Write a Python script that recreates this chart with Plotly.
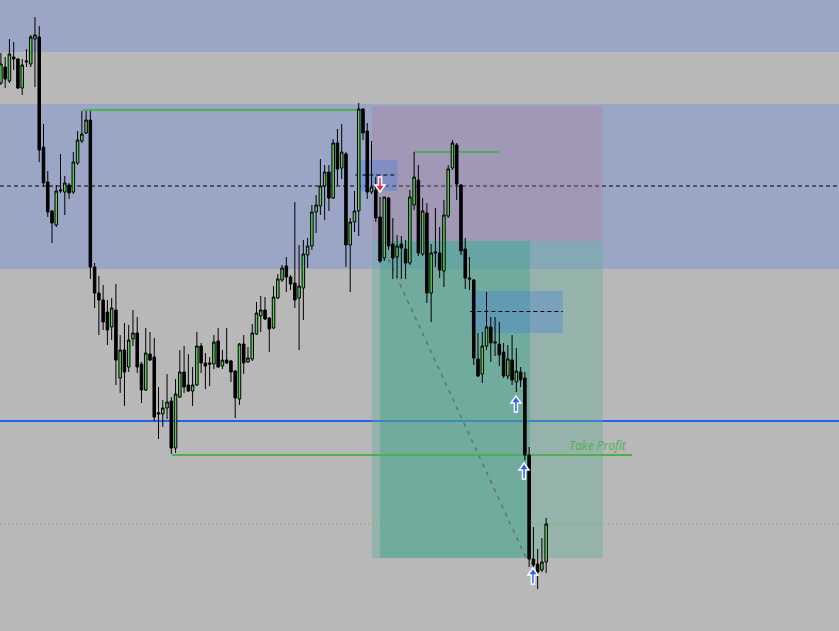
import plotly.graph_objects as go

# ---------------- data (prices in points) ----------------
idx = list(range(1, 130))
opens = [548, 564, 550, 574, 572, 543, 569, 567, 592, 594,
         484, 449, 420, 406, 440, 439, 446, 439, 468, 490,
         498, 511, 364, 338, 331, 319, 304, 321, 253, 281,
         264, 292, 298, 267, 241, 277, 274, 217, 217, 223,
         230, 183, 234, 259, 246, 240, 246, 285, 268, 268,
         267, 290, 265, 271, 270, 260, 232, 287, 269, 272,
         297, 315, 321, 313, 303, 333, 351, 365, 354, 348,
         333, 343, 376, 385, 419, 425, 445, 459, 433, 488,
         463, 477, 386, 409, 420, 522, 500, 439, 441, 414,
         373, 433, 387, 374, 387, 382, 368, 426, 451, 377,
         418, 338, 378, 378, 360, 415, 463, 486, 446, 382,
         353, 351, 272, 257, 285, 304, 288, 287, 279, 255,
         271, 249, 259, 253, 176, 72, 67, 61, 69]
highs = [578, 574, 592, 589, 573, 572, 582, 596, 614, 605,
         507, 460, 421, 446, 477, 455, 448, 479, 500, 520,
         520, 520, 368, 355, 346, 331, 333, 347, 296, 308,
         306, 321, 314, 269, 303, 299, 293, 244, 231, 257,
         234, 252, 281, 285, 277, 264, 299, 288, 278, 274,
         296, 303, 281, 303, 271, 261, 288, 296, 284, 307,
         329, 335, 334, 314, 345, 357, 366, 374, 356, 429,
         386, 391, 393, 426, 436, 472, 466, 466, 492, 502,
         507, 479, 413, 440, 528, 523, 508, 490, 454, 434,
         434, 434, 413, 396, 395, 391, 441, 479, 466, 433,
         428, 387, 423, 404, 431, 466, 491, 488, 447, 393,
         374, 352, 298, 299, 339, 314, 314, 309, 288, 286,
         296, 283, 264, 259, 184, 104, 82, 93, 113]
lows = [546, 543, 548, 561, 542, 536, 564, 564, 544, 469,
        444, 414, 388, 404, 438, 416, 432, 437, 466, 488,
        497, 352, 323, 296, 301, 286, 291, 246, 238, 225,
        259, 285, 258, 228, 240, 270, 210, 192, 204, 212,
        177, 178, 233, 238, 239, 225, 245, 258, 242, 245,
        262, 263, 262, 267, 249, 213, 226, 257, 268, 270,
        296, 299, 311, 279, 302, 332, 349, 339, 341, 323,
        281, 311, 363, 381, 398, 416, 411, 420, 432, 446,
        452, 364, 339, 399, 395, 491, 432, 437, 409, 368,
        370, 381, 352, 353, 352, 352, 366, 421, 375, 375,
        328, 309, 364, 353, 344, 413, 461, 431, 376, 342,
        341, 266, 254, 248, 281, 269, 275, 265, 253, 252,
        246, 239, 244, 171, 64, 64, 42, 59, 58]
closes = [567, 552, 577, 572, 543, 566, 570, 594, 596, 481,
          448, 419, 408, 440, 441, 448, 438, 469, 491, 497,
          511, 364, 338, 331, 309, 301, 323, 271, 281, 259,
          291, 298, 264, 241, 278, 271, 214, 218, 223, 229,
          183, 237, 259, 244, 240, 246, 285, 268, 265, 267,
          289, 264, 271, 268, 259, 233, 287, 268, 273, 298,
          318, 321, 312, 302, 334, 352, 363, 354, 347, 331,
          345, 377, 385, 419, 426, 445, 459, 433, 488, 462,
          479, 386, 409, 420, 522, 498, 439, 444, 413, 370,
          434, 385, 373, 385, 383, 368, 434, 454, 378, 420,
          338, 378, 379, 361, 416, 462, 488, 447, 380, 353,
          352, 273, 255, 285, 304, 288, 289, 276, 255, 272,
          251, 260, 251, 176, 72, 66, 59, 69, 107]

# zones / levels (price points) and tool anchors (bar index)
band_zones = [(579, 631), (362, 527)]
pivot_level = 445
blue_level = 210
dotted_level = 107
green_lines = [(20.3, 85.8, 521), (41.2, 149.2, 176), (97.97, 117.9, 479)]
sell_zone = (88.1, 142.3, 390, 525)
target_zone = (88.1, 142.3, 73, 390)
target_inner = (90.0, 125.2, 73, 390)
box1 = (84.4, 94.1, 440, 471, 456)
box2 = (111.4, 132.9, 298, 340, 319.5)
diag = (90.2, 388, 124.5, 71)
sell_arrow = (90.0, 454)          # tail of the down arrow
buy_arrows = [(121.9, 219), (123.8, 152), (125.9, 47)]   # tails of up arrows
tp_label = (133.9, 186, "Take Profit")

GREY = "#b8b8b8"
BAND = "#9ba6c6"
GREEN = "#4caf50"
CANDLE_GREEN = "#58c858"

fig = go.Figure()
fig.add_trace(go.Candlestick(
    x=idx, open=opens, high=highs, low=lows, close=closes,
    increasing=dict(line=dict(color="black", width=1), fillcolor=CANDLE_GREEN),
    decreasing=dict(line=dict(color="black", width=1), fillcolor="black"),
    whiskerwidth=0, hoverinfo="skip", showlegend=False,
))

shapes = []
for lo, hi in band_zones:
    shapes.append(dict(type="rect", xref="paper", x0=0, x1=1, y0=lo, y1=hi,
                       fillcolor=BAND, line_width=0, layer="below"))
x0, x1, y0, y1 = sell_zone
shapes.append(dict(type="rect", x0=x0, x1=x1, y0=y0, y1=y1,
                   fillcolor="rgba(172,120,143,0.3)", line_width=0, layer="below"))
x0, x1, y0, y1 = target_zone
shapes.append(dict(type="rect", x0=x0, x1=x1, y0=y0, y1=y1,
                   fillcolor="rgba(98,172,152,0.4)", line_width=0, layer="below"))
x0, x1, y0, y1 = target_inner
shapes.append(dict(type="rect", x0=x0, x1=x1, y0=y0, y1=y1,
                   fillcolor="rgba(60,160,140,0.4)", line_width=0, layer="below"))
for b in (box1, box2):
    x0, x1, y0, y1, mid = b
    shapes.append(dict(type="rect", x0=x0, x1=x1, y0=y0, y1=y1,
                       fillcolor="rgba(60,120,230,0.3)", line_width=0, layer="below"))
    shapes.append(dict(type="line", x0=x0 - 0.2, x1=x1, y0=mid, y1=mid,
                       line=dict(color="black", width=1, dash="4px,3px"), layer="below"))
shapes.append(dict(type="line", x0=diag[0], y0=diag[1], x1=diag[2], y1=diag[3],
                   line=dict(color="#66716f", width=1.5, dash="4px,5px"), layer="below"))
shapes.append(dict(type="line", xref="paper", x0=0, x1=1, y0=pivot_level, y1=pivot_level,
                   line=dict(color="black", width=1, dash="4px,3px"), layer="below"))
shapes.append(dict(type="line", xref="paper", x0=0, x1=1, y0=blue_level, y1=blue_level,
                   line=dict(color="#1f64f0", width=2), layer="below"))
shapes.append(dict(type="line", xref="paper", x0=0, x1=1, y0=dotted_level, y1=dotted_level,
                   line=dict(color="#4cc04c", width=1, dash="1px,3px"), layer="below"))
for a, b, lv in green_lines:
    shapes.append(dict(type="line", x0=a, x1=b, y0=lv, y1=lv,
                       line=dict(color=GREEN, width=2), layer="below"))

# arrow glyphs (pixel-sized paths anchored at the arrow tail)
UP = "M -1.5 0 L 1.5 0 L 1.5 9 L 5 9 L 0 16 L -5 9 L -1.5 9 Z"
DOWN = "M -1.5 0 L 1.5 0 L 1.5 -8 L 5 -8 L 0 -15 L -5 -8 L -1.5 -8 Z"
def arrow(x, y, path, color):
    shapes.append(dict(type="path", xsizemode="pixel", ysizemode="pixel",
                       xanchor=x, yanchor=y, path=path, fillcolor=color,
                       line=dict(color="white", width=1.5), layer="above"))

arrow(sell_arrow[0], sell_arrow[1], DOWN, "#e8253a")
for bx, by in buy_arrows:
    arrow(bx, by, UP, "#2a62ff")

annotations = [dict(x=tp_label[0], y=tp_label[1], text="<i>" + tp_label[2] + "</i>",
                    showarrow=False, xanchor="left", yanchor="middle",
                    font=dict(family="Open Sans", size=12, color=GREEN))]

fig.update_layout(
    width=839, height=631, margin=dict(l=0, r=0, t=0, b=0),
    paper_bgcolor=GREY, plot_bgcolor=GREY,
    shapes=shapes, annotations=annotations,
    showlegend=False, hovermode=False, boxgap=0.15,
    xaxis=dict(range=[0.789, 197.74], visible=False, showgrid=False, zeroline=False,
               rangeslider=dict(visible=False)),
    yaxis=dict(range=[0, 631], visible=False, showgrid=False, zeroline=False),
)

fig.write_html("out.html", config={"displayModeBar": False},
               post_script="document.body.style.margin='0';")
